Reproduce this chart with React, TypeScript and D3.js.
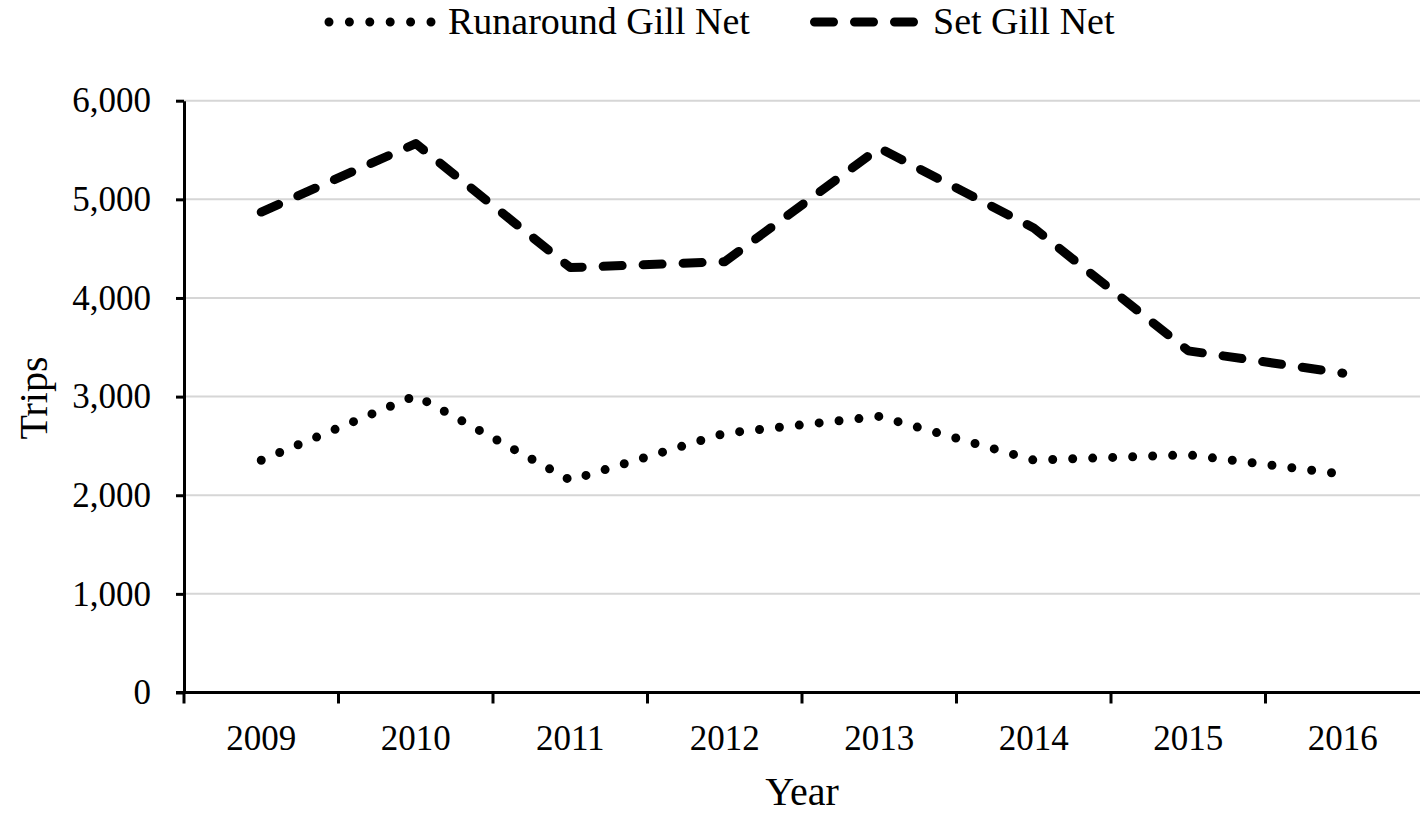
import React, { useEffect, useRef } from 'react';
import * as d3 from 'd3';

// values
const years = ['2009', '2010', '2011', '2012', '2013', '2014', '2015', '2016'];
const runaroundTrips = [2355, 3010, 2153, 2628, 2800, 2356, 2410, 2214];
const setTrips = [4871, 5565, 4308, 4368, 5520, 4709, 3464, 3238];
const yTicks = [0, 1000, 2000, 3000, 4000, 5000, 6000];
const seriesNames = ['Runaround Gill Net', 'Set Gill Net'];

const FONT = '"Liberation Serif", "Times New Roman", serif';

function TripsChart() {
    const ref = useRef<SVGSVGElement>(null);

    useEffect(() => {
        const svgWidth = 1421, svgHeight = 815;
        const margin = { top: 100.7, right: 1, bottom: 122.5, left: 184 };

        const svg = d3.select(ref.current)
            .attr('width', svgWidth)
            .attr('height', svgHeight)
            .style('font-family', FONT);
        svg.selectAll('*').remove();

        // category bands for the years
        const x = d3.scaleBand()
            .domain(years)
            .range([margin.left, svgWidth - margin.right])
            .padding(0);
        const cx = (d: string) => (x(d) as number) + x.bandwidth() / 2;

        const y = d3.scaleLinear()
            .domain([0, 6000])
            .range([svgHeight - margin.bottom, margin.top]);

        // gridlines
        svg.append('g')
            .selectAll('line')
            .data(yTicks.filter(d => d > 0))
            .join('line')
            .attr('x1', margin.left)
            .attr('x2', svgWidth - margin.right)
            .attr('y1', d => y(d))
            .attr('y2', d => y(d))
            .attr('stroke', '#d6d6d6')
            .attr('stroke-width', 2);

        // y axis
        const yAxis = svg.append('g')
            .attr('transform', 'translate(' + margin.left + ',0)')
            .call(d3.axisLeft(y).tickValues(yTicks).tickFormat(d3.format(',')).tickSize(8).tickSizeOuter(0).tickPadding(25));
        yAxis.select('.domain').attr('stroke', '#000').attr('stroke-width', 3);
        yAxis.selectAll('.tick line').attr('stroke', '#000').attr('stroke-width', 3);
        yAxis.selectAll('.tick text')
            .attr('font-family', FONT)
            .attr('font-size', 35)
            .attr('fill', '#000');

        // x axis: ticks on band edges, labels in band centres
        const x0 = y(0);
        const xg = svg.append('g');
        xg.append('line')
            .attr('x1', margin.left - 8)
            .attr('x2', svgWidth - margin.right)
            .attr('y1', x0)
            .attr('y2', x0)
            .attr('stroke', '#000')
            .attr('stroke-width', 3);
        xg.selectAll('line.tk')
            .data(years)
            .join('line')
            .attr('class', 'tk')
            .attr('x1', d => x(d) as number)
            .attr('x2', d => x(d) as number)
            .attr('y1', x0)
            .attr('y2', x0 + 11)
            .attr('stroke', '#000')
            .attr('stroke-width', 3);
        xg.selectAll('text')
            .data(years)
            .join('text')
            .attr('x', d => cx(d))
            .attr('y', x0 + 57)
            .attr('text-anchor', 'middle')
            .attr('font-size', 35)
            .text(d => d);

        // axis titles
        svg.append('text')
            .attr('x', (margin.left + svgWidth - margin.right) / 2)
            .attr('y', 805)
            .attr('text-anchor', 'middle')
            .attr('font-size', 40)
            .text('Year');
        svg.append('text')
            .attr('transform', 'translate(47,' + 398 + ') rotate(-90)')
            .attr('text-anchor', 'middle')
            .attr('font-size', 40)
            .text('Trips');

        const line = d3.line<number>()
            .x((d, i) => cx(years[i]))
            .y(d => y(d));

        // runaround: dotted
        svg.append('path')
            .datum(runaroundTrips)
            .attr('fill', 'none')
            .attr('stroke', '#000')
            .attr('stroke-width', 9)
            .attr('stroke-linecap', 'round')
            .attr('stroke-linejoin', 'round')
            .attr('stroke-dasharray', '0 20')
            .attr('d', line);

        // set gill net: dashed
        svg.append('path')
            .datum(setTrips)
            .attr('fill', 'none')
            .attr('stroke', '#000')
            .attr('stroke-width', 9)
            .attr('stroke-linecap', 'round')
            .attr('stroke-linejoin', 'round')
            .attr('stroke-dasharray', '19 21')
            .attr('d', line);

        // legend
        const lg = svg.append('g');
        lg.append('line')
            .attr('x1', 329).attr('x2', 431)
            .attr('y1', 22).attr('y2', 22)
            .attr('stroke', '#000')
            .attr('stroke-width', 9)
            .attr('stroke-linecap', 'round')
            .attr('stroke-dasharray', '0 20.4');
        lg.append('text')
            .attr('x', 448).attr('y', 34)
            .attr('font-size', 38)
            .text(seriesNames[0]);
        lg.append('line')
            .attr('x1', 814.5).attr('x2', 913.5)
            .attr('y1', 22).attr('y2', 22)
            .attr('stroke', '#000')
            .attr('stroke-width', 9)
            .attr('stroke-linecap', 'round')
            .attr('stroke-dasharray', '19 21');
        lg.append('text')
            .attr('x', 933).attr('y', 34)
            .attr('font-size', 38)
            .text(seriesNames[1]);
    }, []);

    return <svg ref={ref}></svg>;
}

export default function App() {
    return (
        <div style={{ position: 'absolute', left: 0, top: 0, background: '#fff' }}>
            <TripsChart />
        </div>
    );
}
